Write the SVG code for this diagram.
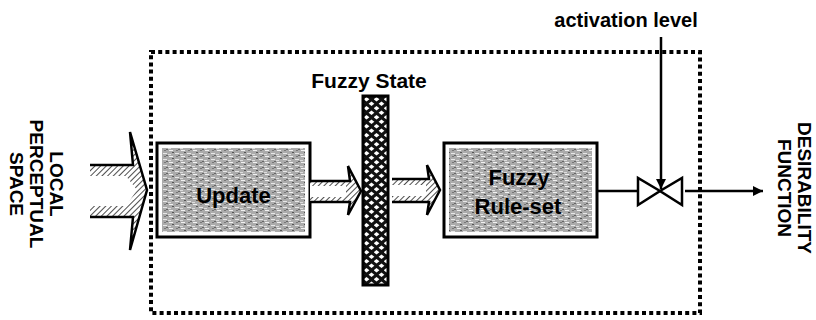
<svg xmlns="http://www.w3.org/2000/svg" width="816" height="320" viewBox="0 0 816 320">
<style>
text{font-family:"Liberation Sans",Arial,sans-serif;font-weight:bold;fill:#000}
.lbl{font-size:22px;text-anchor:middle}
.rot{font-size:19px;text-anchor:middle}
.box{fill:#fff;stroke:#000;stroke-width:3}
.ln{fill:none;stroke:#000;stroke-width:2.5;stroke-linejoin:miter}
.bar{fill:none;stroke:#000;stroke-width:2.5}
.dots{fill:none;stroke:#000;stroke-width:4;stroke-dasharray:4 3.2}
</style>
<defs>
<pattern id="hatch" width="4" height="4" patternUnits="userSpaceOnUse" patternTransform="rotate(45)">
<rect width="4" height="4" fill="#fff"/>
<line x1="0" y1="0" x2="0" y2="4" stroke="#000" stroke-width="1.4"/>
</pattern>
<pattern id="speckle" width="12" height="6" patternUnits="userSpaceOnUse">
<rect width="12" height="6" fill="#ababab"/>
<rect x="1" y="0" width="4" height="1" fill="#f2f2f2"/>
<rect x="7" y="3" width="4" height="1" fill="#e8e8e8"/>
<rect x="4" y="2" width="2" height="1" fill="#555"/>
<rect x="10" y="5" width="2" height="1" fill="#666"/>
<rect x="0" y="4" width="3" height="1" fill="#ddd"/>
<rect x="8" y="0" width="2" height="1" fill="#777"/>
</pattern>
<pattern id="lattice" width="10" height="9" patternUnits="userSpaceOnUse" x="364" y="97">
<rect width="10" height="9" fill="#111"/>
<path d="M2.5,0 L5.4,2.25 L2.5,4.5 L-0.4,2.25 Z M7.5,4.5 L10.4,6.75 L7.5,9 L4.6,6.75 Z M7.5,-4.5 L10.4,-2.25 L7.5,0 L4.6,-2.25 Z" fill="#fff"/>
<path d="M-2.5,4.5 L0.4,6.75 L-2.5,9 L-5.4,6.75 Z" fill="#fff"/>
</pattern>
<marker id="ah" viewBox="0 0 10 10" refX="10" refY="5" markerWidth="10" markerHeight="10" markerUnits="userSpaceOnUse" orient="auto">
<path d="M0,0 L10,5 L0,10 Z" fill="#000"/>
</marker>
</defs>

<g id="border">
<rect class="dots" x="151" y="52" width="549" height="261"/>
</g>

<g id="local-perceptual-space">
<text class="rot" transform="translate(50,184) rotate(90)"><tspan x="0" dy="0">LOCAL</tspan><tspan x="0" dy="20">PERCEPTUAL</tspan><tspan x="0" dy="20">SPACE</tspan></text>
</g>

<g id="input-arrow">
<path d="M90,165 L133,165 L130,132 L147,190 L130,250 L133,217 L90,217 Z" fill="url(#hatch)"/>
<path d="M90,176 L126,176 L137,190 L126,206 L90,206 Z" fill="#fff"/>
<path class="ln" d="M90,165 L133,165 L130,132 L147,190 L130,250 L133,217 L90,217"/>
</g>

<g id="update">
<rect class="box" x="157" y="143" width="153" height="94"/>
<rect x="162" y="148" width="143" height="84" fill="url(#speckle)"/>
<text class="lbl" x="233.5" y="203">Update</text>
</g>

<g id="fuzzy-state">
<text x="369" y="88" style="font-size:21px;text-anchor:middle">Fuzzy State</text>
<rect x="363" y="96" width="25" height="189" fill="url(#lattice)" stroke="#000" stroke-width="3"/>
</g>

<g id="fuzzy-rule-set">
<rect class="box" x="444" y="143" width="153" height="94"/>
<rect x="449" y="148" width="143" height="84" fill="url(#speckle)"/>
<text class="lbl" x="519" y="185">Fuzzy</text>
<text class="lbl" x="518" y="214">Rule-set</text>
</g>

<g id="valve">
<path class="ln" d="M638,178 L638,205 L660,191 Z M682,178 L682,205 L660,191 Z" fill="#fff"/>
</g>

<g id="activation-level">
<text x="626" y="27" style="font-size:20px;text-anchor:middle">activation level</text>
</g>

<g id="desirability-function">
<text class="rot" transform="translate(798,188) rotate(90)"><tspan x="0" dy="0">DESIRABILITY</tspan><tspan x="0" dy="20">FUNCTION</tspan></text>
</g>

<g id="connectors">
<path d="M310,181 L350,181 L348,166 L361,191 L348,215 L350,202 L310,202 Z" fill="url(#hatch)"/>
<rect x="310" y="186" width="36" height="11" fill="#fff"/>
<path class="ln" d="M310,181 L350,181 L348,166 L361,191 L348,215 L350,202 L310,202"/>
<path d="M392,179 L429,179 L427,165 L440,190 L427,215 L429,202 L392,202 Z" fill="url(#hatch)"/>
<rect x="392" y="185" width="34" height="11" fill="#fff"/>
<path class="ln" d="M392,179 L429,179 L427,165 L440,190 L427,215 L429,202 L392,202"/>
<line class="bar" x1="597" y1="191" x2="638" y2="191"/>
<line class="bar" x1="661" y1="37" x2="661" y2="189" marker-end="url(#ah)"/>
<line class="bar" x1="685" y1="191" x2="763" y2="191" marker-end="url(#ah)"/>
</g>
</svg>
